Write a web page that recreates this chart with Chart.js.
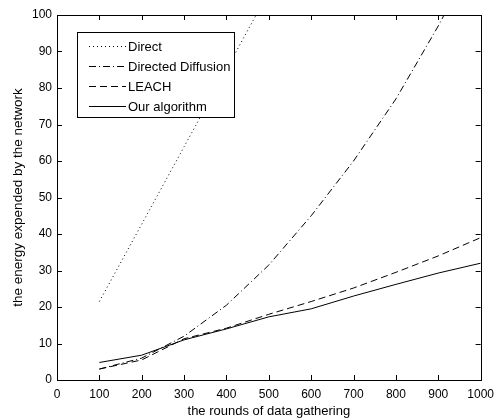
<!DOCTYPE html>
<html>
<head>
<meta charset="utf-8">
<script src="https://cdn.jsdelivr.net/npm/chart.js@4/dist/chart.umd.min.js"></script>
<style>
  html, body { margin: 0; padding: 0; background: #fff; }
  #wrap { width: 501px; height: 419px; }
</style>
</head>
<body>
<div id="wrap"><canvas id="canvas1" width="501" height="419"></canvas></div>
<script>
'use strict';

// global variables
var rounds = [100, 200, 300, 400, 500, 600, 700, 800, 900, 1000];
var direct = [21.5, 42.7, 63.9, 85.1, 106.4];
var directedDiffusion = [3, 6, 12, 20.5, 31.5, 45, 60, 77, 97, 119];
var leach = [3, 5.5, 11.3, 14.2, 18, 21.5, 25.2, 29.5, 34, 39];
var ourAlgorithm = [4.8, 6.8, 11, 14, 17.3, 19.5, 23, 26.2, 29.3, 32];
var seriesNames = ['Direct', 'Directed Diffusion', 'LEACH', 'Our algorithm'];
var dashes = [[1, 3], [7, 3, 1, 3], [7, 4], []];
var font = 'Liberation Sans, Arial, sans-serif';

function toPoints(values){
  return values.map(function(v, i){ return {x: rounds[i], y: v}; });
}

function makeDataset(i, values){
  return {
    label: seriesNames[i],
    data: toPoints(values),
    borderColor: '#000',
    borderWidth: 1,
    borderDash: dashes[i],
    pointRadius: 0,
    fill: false,
    tension: 0
  };
}

// inward ticks, box frame and legend, matlab style
var framePlugin = {
  id: 'frame',
  afterDraw: function(chart){
    var ctx = chart.ctx;
    var a = chart.chartArea;
    var xs = chart.scales.x;
    var ys = chart.scales.y;
    ctx.save();
    ctx.strokeStyle = '#000';
    ctx.lineWidth = 1;
    ctx.setLineDash([]);
    ctx.strokeRect(Math.round(a.left) + 0.5, Math.round(a.top) + 0.5,
      Math.round(a.right - a.left), Math.round(a.bottom - a.top));
    ctx.beginPath();
    xs.ticks.forEach(function(t){
      var px = Math.round(xs.getPixelForValue(t.value)) + 0.5;
      ctx.moveTo(px, a.bottom); ctx.lineTo(px, a.bottom - 5);
      ctx.moveTo(px, a.top); ctx.lineTo(px, a.top + 5);
    });
    ys.ticks.forEach(function(t){
      var py = Math.round(ys.getPixelForValue(t.value)) + 0.5;
      ctx.moveTo(a.left, py); ctx.lineTo(a.left + 5, py);
      ctx.moveTo(a.right, py); ctx.lineTo(a.right - 5, py);
    });
    ctx.stroke();

    // legend box
    var bx = 77.5, by = 32.5, bw = 157, bh = 85;
    ctx.fillStyle = '#fff';
    ctx.fillRect(bx, by, bw, bh);
    ctx.strokeRect(bx, by, bw, bh);
    ctx.font = '13px ' + font;
    ctx.textBaseline = 'middle';
    ctx.textAlign = 'left';
    for (var i = 0; i < seriesNames.length; i++) {
      var ly = Math.round(by + 13 + i * 20) + 0.5;
      ctx.setLineDash(dashes[i]);
      ctx.beginPath();
      ctx.moveTo(89, ly); ctx.lineTo(126, ly);
      ctx.stroke();
      ctx.setLineDash([]);
      ctx.fillStyle = '#000';
      ctx.fillText(seriesNames[i], 128, ly + 1);
    }
    ctx.restore();
  }
};

// run script
var chart = new Chart(document.getElementById('canvas1'), {
  type: 'line',
  data: {
    datasets: [
      makeDataset(0, direct),
      makeDataset(1, directedDiffusion),
      makeDataset(2, leach),
      makeDataset(3, ourAlgorithm)
    ]
  },
  options: {
    responsive: false,
    animation: false,
    layout: {padding: {top: 15, right: 13, left: 0, bottom: 0}},
    plugins: {legend: {display: false}, tooltip: {enabled: false}},
    scales: {
      x: {
        type: 'linear',
        min: 0,
        max: 1000,
        afterFit: function(s){ s.height = 39; },
        grid: {drawOnChartArea: false, drawTicks: false},
        border: {display: false},
        ticks: {
          stepSize: 100, padding: 7, color: '#000', maxRotation: 0,
          font: {family: font, size: 12},
          callback: function(v){ return String(v); }
        },
        title: {display: true, text: 'the rounds of data gathering', color: '#000', padding: {top: 0, bottom: 0}, font: {family: font, size: 13}}
      },
      y: {
        min: 0,
        max: 100,
        afterFit: function(s){ s.width = 57; },
        grid: {drawOnChartArea: false, drawTicks: false},
        border: {display: false},
        ticks: {stepSize: 10, padding: 5, color: '#000', font: {family: font, size: 12}},
        title: {display: true, text: 'the energy expended by the network', color: '#000', padding: {top: 10, bottom: 0}, font: {family: font, size: 13.5}}
      }
    }
  },
  plugins: [framePlugin]
});
</script>
</body>
</html>
